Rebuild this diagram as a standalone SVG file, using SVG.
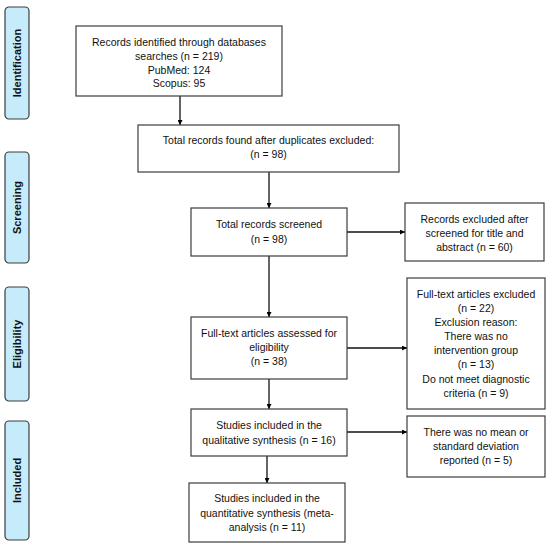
<svg xmlns="http://www.w3.org/2000/svg" width="550" height="546" viewBox="0 0 550 546">
<defs>
<marker id="ah" viewBox="0 0 10 10" refX="10" refY="5" markerWidth="5" markerHeight="5" orient="auto" markerUnits="userSpaceOnUse"><path d="M0,0 L10,5 L0,10 z" fill="#000"/></marker>
</defs>
<style>
.box{fill:#fff;stroke:#3c3c3c;stroke-width:1.2}
.side{fill:#c6ebfb;stroke:#3c3c3c;stroke-width:1.2}
.t{font-family:"Liberation Sans",Arial,sans-serif;font-size:10.5px;fill:#111;text-anchor:middle}
.s{font-family:"Liberation Sans",Arial,sans-serif;font-size:11px;font-weight:bold;fill:#111;text-anchor:middle}
.c{stroke:#111;stroke-width:1.3;fill:none;marker-end:url(#ah)}
</style>
<rect width="550" height="546" fill="#fff"/>
<g id="side-identification"><rect class="side" x="5" y="7" width="24" height="112" rx="4"/><text class="s" transform="translate(21,63) rotate(-90)">Identification</text></g>
<g id="side-screening"><rect class="side" x="5" y="152" width="24" height="111" rx="4"/><text class="s" transform="translate(21,207.5) rotate(-90)">Screening</text></g>
<g id="side-eligibility"><rect class="side" x="5" y="287" width="24" height="114" rx="4"/><text class="s" transform="translate(21,344) rotate(-90)">Eligibility</text></g>
<g id="side-included"><rect class="side" x="5" y="421" width="24" height="119" rx="4"/><text class="s" transform="translate(21,480.5) rotate(-90)">Included</text></g>

<g id="connectors">
<line class="c" x1="180" y1="96" x2="180" y2="125"/>
<line class="c" x1="269" y1="172" x2="269" y2="208"/>
<line class="c" x1="347" y1="232" x2="405" y2="232"/>
<line class="c" x1="269" y1="256" x2="269" y2="317"/>
<line class="c" x1="347" y1="348" x2="407" y2="348"/>
<line class="c" x1="269" y1="379" x2="269" y2="409"/>
<line class="c" x1="347" y1="432" x2="407" y2="432"/>
<line class="c" x1="267" y1="456" x2="267" y2="483"/>
</g>

<g id="n-records"><rect class="box" x="76" y="26" width="206" height="70"/>
<text class="t" x="179" y="46">Records identified through databases</text>
<text class="t" x="179" y="60">searches (n = 219)</text>
<text class="t" x="179" y="74">PubMed: 124</text>
<text class="t" x="179" y="87">Scopus: 95</text></g>

<g id="n-dup"><rect class="box" x="138" y="125" width="261" height="47"/>
<text class="t" x="268.5" y="144">Total records found after duplicates excluded:</text>
<text class="t" x="268.5" y="158">(n = 98)</text></g>

<g id="n-screened"><rect class="box" x="191" y="208" width="156" height="48"/>
<text class="t" x="269" y="228">Total records screened</text>
<text class="t" x="269" y="243">(n = 98)</text></g>

<g id="n-excluded1"><rect class="box" x="405" y="203" width="139" height="58"/>
<text class="t" x="474.5" y="223">Records excluded after</text>
<text class="t" x="474.5" y="237">screened for title and</text>
<text class="t" x="474.5" y="251">abstract (n = 60)</text></g>

<g id="n-fulltext"><rect class="box" x="191" y="317" width="156" height="62"/>
<text class="t" x="269" y="337">Full-text articles assessed for</text>
<text class="t" x="269" y="351">eligibility</text>
<text class="t" x="269" y="365">(n = 38)</text></g>

<g id="n-excluded2"><rect class="box" x="407" y="278" width="138" height="131"/>
<text class="t" x="476" y="298">Full-text articles excluded</text>
<text class="t" x="476" y="312">(n = 22)</text>
<text class="t" x="476" y="326">Exclusion reason:</text>
<text class="t" x="476" y="340">There was no</text>
<text class="t" x="476" y="354">intervention group</text>
<text class="t" x="476" y="368">(n = 13)</text>
<text class="t" x="476" y="383">Do not meet diagnostic</text>
<text class="t" x="476" y="397">criteria (n = 9)</text></g>

<g id="n-qual"><rect class="box" x="191" y="409" width="156" height="47"/>
<text class="t" x="269" y="429">Studies included in the</text>
<text class="t" x="269" y="444">qualitative synthesis (n = 16)</text></g>

<g id="n-excluded3"><rect class="box" x="407" y="416" width="138" height="61"/>
<text class="t" x="476" y="436">There was no mean or</text>
<text class="t" x="476" y="450">standard deviation</text>
<text class="t" x="476" y="464">reported (n = 5)</text></g>

<g id="n-quant"><rect class="box" x="189" y="483" width="156" height="59"/>
<text class="t" x="267" y="502">Studies included in the</text>
<text class="t" x="267" y="517">quantitative synthesis (meta-</text>
<text class="t" x="267" y="531">analysis (n = 11)</text></g>
</svg>
